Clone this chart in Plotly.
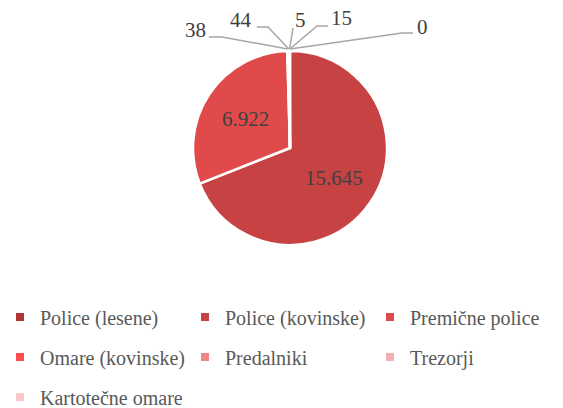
import math
import plotly.graph_objects as go

categories = ["Police (lesene)", "Police (kovinske)", "Premične police",
              "Omare (kovinske)", "Predalniki", "Trezorji", "Kartotečne omare"]
values = [0, 15645, 6922, 38, 44, 5, 15]
colors = ["#B03535", "#C64243", "#E04A4B", "#FF4D4D", "#F28686", "#F6ADAD", "#F9C8C8"]

W, H = 563, 408
CX, CY, R = 290, 148, 97
FONT = "'Liberation Serif', 'Times New Roman', serif"
LABEL_COLOR = "#404040"
LEGEND_COLOR = "#595959"
LINE_COLOR = "#A6A6A6"


def px(x):
    return x / W


def py(y):
    return 1 - y / H


fig = go.Figure()
fig.add_trace(go.Pie(
    labels=categories, values=values, sort=False, direction="clockwise",
    rotation=0, textinfo="none", hoverinfo="skip", showlegend=False,
    marker=dict(colors=colors, line=dict(color="white", width=2.5)),
    domain=dict(x=[px(CX - 130), px(CX + 130)], y=[py(CY + R), py(CY - R)]),
))

total = sum(values)
cum = 0
mids = []
for v in values:
    mids.append((cum + v / 2) / total * 2 * math.pi)
    cum += v


def fmt(v):
    return f"{v:,}".replace(",", ".")


annotations = []
shapes = []
for i in (1, 2):
    a = mids[i]
    x = CX + 0.55 * R * math.sin(a)
    y = CY - 0.55 * R * math.cos(a)
    annotations.append(dict(x=px(x), y=py(y), xref="paper", yref="paper",
                            xanchor="center", yanchor="middle",
                            text=fmt(values[i]), showarrow=False,
                            font=dict(family=FONT, size=21, color=LABEL_COLOR)))

outside = {
    3: ((195, 30), (209, 37), (222, 37)),
    4: ((241, 20), (257, 27), (268, 27)),
    5: ((300, 20), (293, 28), None),
    6: ((341, 18), (328, 26), (317, 26)),
    0: ((422, 27), (413, 33), (402, 33)),
}
for i, (tc, start, elbow) in outside.items():
    a = mids[i]
    ex = CX + (R + 2) * math.sin(a)
    ey = CY - (R + 2) * math.cos(a)
    pts = [start] + ([elbow] if elbow else []) + [(ex, ey)]
    path = "M" + " L".join(f"{px(x):.5f},{py(y):.5f}" for x, y in pts)
    shapes.append(dict(type="path", path=path, xref="paper", yref="paper",
                       line=dict(color=LINE_COLOR, width=1.5)))
    annotations.append(dict(x=px(tc[0]), y=py(tc[1]), xref="paper", yref="paper",
                            xanchor="center", yanchor="middle",
                            text=fmt(values[i]), showarrow=False,
                            font=dict(family=FONT, size=21, color=LABEL_COLOR)))

legend_ids = ["legend", "legend", "legend", "legend2", "legend2", "legend2", "legend3"]
for name, col, lg in zip(categories, colors, legend_ids):
    fig.add_trace(go.Scatter(x=[None], y=[None], mode="markers", name=name,
                             legend=lg, hoverinfo="skip",
                             marker=dict(symbol="square", size=8, color=col)))

legend_common = dict(orientation="h", x=0, xanchor="left", yanchor="middle",
                     entrywidth=140, entrywidthmode="pixels", itemwidth=30,
                     bgcolor="rgba(0,0,0,0)",
                     font=dict(family=FONT, size=20, color=LEGEND_COLOR))
row_y = [317, 357, 397]

fig.update_layout(
    width=W, height=H, autosize=False,
    font=dict(family=FONT, size=20, color=LEGEND_COLOR),
    margin=dict(l=0, r=0, t=0, b=0, autoexpand=False),
    paper_bgcolor="white", plot_bgcolor="white",
    xaxis=dict(visible=False), yaxis=dict(visible=False),
    annotations=annotations, shapes=shapes,
    legend=dict(y=py(row_y[0]), **legend_common),
    legend2=dict(y=py(row_y[1]), **legend_common),
    legend3=dict(y=py(row_y[2]), **legend_common),
)

fig.write_html("out.html")
